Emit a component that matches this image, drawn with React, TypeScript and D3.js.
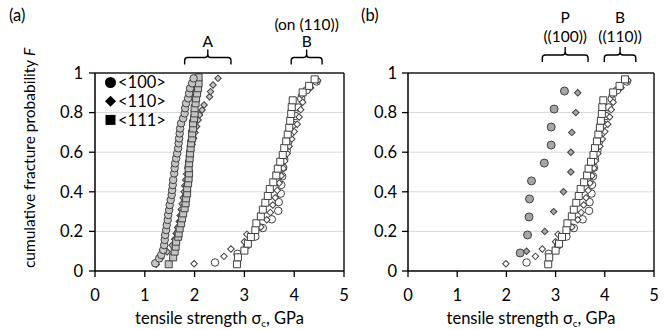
import React from "react";
import * as d3 from "d3";

type Pt = [number, number]; // [tensile strength GPa, F]

// group A (panel a), gray markers
const a100: Pt[] = [
  [1.21, 0.039], [1.29, 0.064], [1.33, 0.081], [1.37, 0.106], [1.39, 0.131],
  [1.4, 0.157], [1.41, 0.182], [1.43, 0.207], [1.44, 0.232], [1.46, 0.258],
  [1.47, 0.283], [1.49, 0.308], [1.5, 0.333], [1.52, 0.359], [1.54, 0.384],
  [1.55, 0.409], [1.56, 0.434], [1.57, 0.46], [1.59, 0.493], [1.6, 0.519],
  [1.61, 0.544], [1.63, 0.569], [1.65, 0.594], [1.67, 0.62], [1.68, 0.645],
  [1.69, 0.67], [1.7, 0.695], [1.71, 0.72], [1.73, 0.746], [1.77, 0.771],
  [1.8, 0.796], [1.81, 0.822], [1.83, 0.847], [1.87, 0.872], [1.89, 0.897],
  [1.91, 0.923], [1.95, 0.948], [1.98, 0.973],
];
const a110: Pt[] = [
  [1.23, 0.034], [1.32, 0.065], [1.45, 0.097], [1.55, 0.13], [1.6, 0.16],
  [1.63, 0.19], [1.66, 0.22], [1.69, 0.25], [1.71, 0.28], [1.73, 0.31],
  [1.75, 0.34], [1.77, 0.37], [1.79, 0.4], [1.8, 0.43], [1.82, 0.46],
  [1.84, 0.49], [1.86, 0.52], [1.88, 0.55], [1.9, 0.58], [1.92, 0.61],
  [1.95, 0.64], [1.98, 0.67], [2.01, 0.7], [2.04, 0.73], [2.07, 0.763],
  [2.1, 0.788], [2.15, 0.813], [2.19, 0.838], [2.3, 0.88], [2.32, 0.906],
  [2.37, 0.939], [2.47, 0.973],
];
const a111: Pt[] = [
  [1.48, 0.034], [1.57, 0.069], [1.6, 0.098], [1.62, 0.123], [1.63, 0.148],
  [1.67, 0.173], [1.68, 0.19], [1.7, 0.215], [1.73, 0.241], [1.75, 0.266],
  [1.77, 0.291], [1.8, 0.317], [1.82, 0.342], [1.83, 0.367], [1.85, 0.392],
  [1.85, 0.418], [1.87, 0.443], [1.88, 0.468], [1.89, 0.493], [1.88, 0.519],
  [1.89, 0.544], [1.9, 0.569], [1.91, 0.594], [1.92, 0.62], [1.93, 0.645],
  [1.95, 0.67], [1.95, 0.695], [1.97, 0.72], [1.97, 0.746], [1.99, 0.771],
  [2.0, 0.796], [2.0, 0.822], [2.02, 0.847], [2.03, 0.872], [2.05, 0.897],
  [2.07, 0.923], [2.08, 0.948], [2.08, 0.978],
];

// group B (both panels), open markers
const b100: Pt[] = [
  [2.41, 0.043], [2.86, 0.087], [3.05, 0.13], [3.22, 0.174], [3.37, 0.217],
  [3.55, 0.261], [3.68, 0.304], [3.69, 0.348], [3.73, 0.391], [3.74, 0.435],
  [3.76, 0.478], [3.78, 0.522], [3.8, 0.565], [3.85, 0.609], [3.88, 0.652],
  [3.93, 0.696], [3.97, 0.739], [4.02, 0.783], [4.08, 0.826], [4.14, 0.87],
  [4.25, 0.913], [4.45, 0.957],
];
const b110: Pt[] = [
  [1.99, 0.037], [2.59, 0.074], [2.73, 0.111], [3.0, 0.148], [3.05, 0.185],
  [3.33, 0.222], [3.45, 0.259], [3.52, 0.296], [3.57, 0.333], [3.62, 0.37],
  [3.66, 0.407], [3.7, 0.444], [3.74, 0.481], [3.78, 0.519], [3.81, 0.556],
  [3.86, 0.593], [3.9, 0.63], [3.95, 0.667], [4.0, 0.704], [4.06, 0.741],
  [4.1, 0.778], [4.13, 0.815], [4.17, 0.852], [4.15, 0.889], [4.33, 0.926],
  [4.47, 0.963],
];
const b111: Pt[] = [
  [2.85, 0.034], [2.87, 0.069], [3.0, 0.103], [3.07, 0.138], [3.13, 0.172],
  [3.22, 0.207], [3.24, 0.241], [3.33, 0.276], [3.37, 0.31], [3.42, 0.345],
  [3.47, 0.379], [3.51, 0.414], [3.58, 0.448], [3.64, 0.483], [3.67, 0.517],
  [3.72, 0.552], [3.77, 0.586], [3.8, 0.621], [3.84, 0.655], [3.87, 0.69],
  [3.9, 0.724], [3.92, 0.759], [3.94, 0.793], [3.95, 0.828], [3.97, 0.862],
  [4.17, 0.902], [4.3, 0.935], [4.41, 0.968],
];

// group P (panel b), gray markers
const p100: Pt[] = [
  [2.28, 0.091], [2.43, 0.182], [2.46, 0.273], [2.47, 0.364], [2.51, 0.455],
  [2.77, 0.545], [2.91, 0.636], [2.91, 0.727], [2.97, 0.818], [3.18, 0.909],
];
const p110: Pt[] = [
  [2.41, 0.1], [2.78, 0.2], [2.96, 0.3], [3.16, 0.4], [3.31, 0.5],
  [3.31, 0.6], [3.33, 0.7], [3.41, 0.8], [3.45, 0.9],
];

const xTicks = [0, 1, 2, 3, 4, 5];
const yTicks = [0, 0.2, 0.4, 0.6, 0.8, 1];
const legendItems = ["<100>", "<110>", "<111>"];

// bracket annotations: [from, to] in GPa, label lines
const bracketsA = [
  { range: [1.8, 2.73], lines: ["A"], top: 57.5, textY: [42] },
  { range: [3.94, 4.56], lines: ["(on (110))", "B"], top: 57.5, textY: [24.5, 42] },
];
const bracketsB = [
  { range: [2.73, 3.66], lines: ["P", "((100))"], top: 55, textY: [18, 36.5] },
  { range: [3.99, 4.63], lines: ["B", "((110))"], top: 55, textY: [18, 36.5] },
];

const FONT = "Lato, 'Open Sans', sans-serif";
const FS = 16.5;
const GRAY = "#c4c4c4";
const GRAY_P = "#a6a6a6";
const EDGE = "#404040";

const yScale = d3.scaleLinear().domain([0, 1]).range([271, 73]);

const circlePath = (r: number) => d3.symbol(d3.symbolCircle, Math.PI * r * r)();
const squarePath = (s: number) => d3.symbol(d3.symbolSquare, s * s)();

function Markers({ data, x, shape, fill, size }: any) {
  const d =
    shape === "circle"
      ? circlePath(size / 2)
      : squarePath(shape === "diamond" ? size / Math.SQRT2 : size);
  return (
    <g>
      {data.map((p: Pt, i: number) => (
        <path
          key={i}
          d={d as string}
          transform={`translate(${x(p[0])},${yScale(p[1])})${shape === "diamond" ? " rotate(45)" : ""}`}
          fill={fill}
          stroke={EDGE}
          strokeWidth={1}
        />
      ))}
    </g>
  );
}

function Bracket({ x, range, lines, top, textY }: any) {
  const x0 = x(range[0]);
  const x1 = x(range[1]);
  const xc = (x0 + x1) / 2;
  const yt = top;
  const yb = yt + 7;
  const r = 3;
  const d = `M${x0},${yb} L${x0},${yt + r} Q${x0},${yt} ${x0 + r},${yt} L${xc - r},${yt} Q${xc},${yt} ${xc},${yt - r} L${xc},${yt - 8}
    M${xc},${yt - r} Q${xc},${yt} ${xc + r},${yt} L${x1 - r},${yt} Q${x1},${yt} ${x1},${yt + r} L${x1},${yb}`;
  return (
    <g>
      <path d={d} fill="none" stroke="#000" strokeWidth={1.4} />
      {lines.map((t: string, i: number) => (
        <text key={i} x={xc} y={textY[i]} dy="0.35em" textAnchor="middle" fontSize={15.5}>
          {t}
        </text>
      ))}
    </g>
  );
}

function Panel({ x, labelRight, brackets, children }: any) {
  const [xl, xr] = x.range();
  return (
    <g>
      {yTicks.slice(1, -1).map((t) => (
        <line key={t} x1={xl} x2={xr} y1={yScale(t)} y2={yScale(t)} stroke="#d9d9d9" strokeWidth={1} />
      ))}
      {children}
      <line x1={xl} x2={xr} y1={73} y2={73} stroke="#1a1a1a" strokeWidth={1.5} />
      <line x1={xr} x2={xr} y1={73} y2={271} stroke="#1a1a1a" strokeWidth={1.5} />
      <line x1={xl} x2={xr} y1={271} y2={271} stroke="#000" strokeWidth={1.5} />
      <line x1={xl} x2={xl} y1={73} y2={271} stroke="#000" strokeWidth={1.5} />
      {yTicks.map((t) => (
        <g key={t}>
          <line x1={xl - 6} x2={xl} y1={yScale(t)} y2={yScale(t)} stroke="#000" strokeWidth={1.3} />
          <text x={labelRight} y={yScale(t)} dy="0.35em" textAnchor="end" fontSize={FS}>
            {t}
          </text>
        </g>
      ))}
      {xTicks.map((t) => (
        <g key={t}>
          <line x1={x(t)} x2={x(t)} y1={271} y2={277} stroke="#000" strokeWidth={1.3} />
          <text x={x(t)} y={295} dy="0.35em" textAnchor="middle" fontSize={FS}>
            {t}
          </text>
        </g>
      ))}
      <text x={(xl + xr) / 2} y={318} dy="0.35em" textAnchor="middle" fontSize={FS}>
        tensile strength σ<tspan fontSize={10} dy="3">c</tspan>
        <tspan dy="-3">, GPa</tspan>
      </text>
      {brackets.map((b: any, i: number) => (
        <Bracket key={i} x={x} {...b} />
      ))}
    </g>
  );
}

export default function App() {
  const xA = d3.scaleLinear().domain([0, 5]).range([95, 344]);
  const xB = d3.scaleLinear().domain([0, 5]).range([408, 654]);

  return (
    <svg
      width={668}
      height={330}
      style={{ position: "absolute", left: 0, top: 0, background: "#fff" }}
      fontFamily={FONT}
      fill="#000"
    >
      <text x={9} y={15} dy="0.35em" fontSize={FS}>(a)</text>
      <text x={361} y={15} dy="0.35em" fontSize={FS}>(b)</text>
      <text
        transform="translate(30,158) rotate(-90)"
        textAnchor="middle"
        dy="0.35em"
        fontSize={15.5}
      >
        cumulative fracture probability <tspan fontStyle="italic">F</tspan>
      </text>

      <Panel x={xA} labelRight={83} brackets={bracketsA}>
        <Markers data={b100} x={xA} shape="circle" fill="#fff" size={7.5} />
        <Markers data={b110} x={xA} shape="diamond" fill="#fff" size={6.5} />
        <Markers data={b111} x={xA} shape="square" fill="#fff" size={7} />
        <Markers data={a110} x={xA} shape="diamond" fill={GRAY} size={6.5} />
        <Markers data={a111} x={xA} shape="square" fill={GRAY} size={7} />
        <Markers data={a100} x={xA} shape="circle" fill={GRAY} size={7.5} />
        {legendItems.map((t, i) => {
          const cy = 82.5 + i * 18.7;
          const shape = ["circle", "diamond", "square"][i];
          const d =
            shape === "circle" ? circlePath(5.5) : squarePath(shape === "diamond" ? 11 / Math.SQRT2 : 10);
          return (
            <g key={t}>
              <path
                d={d as string}
                transform={`translate(110.5,${cy})${shape === "diamond" ? " rotate(45)" : ""}`}
                fill="#000"
              />
              <text x={118} y={cy} dy="0.35em" fontSize={FS}>{t}</text>
            </g>
          );
        })}
      </Panel>

      <Panel x={xB} labelRight={397} brackets={bracketsB}>
        <Markers data={b100} x={xB} shape="circle" fill="#fff" size={7.5} />
        <Markers data={b110} x={xB} shape="diamond" fill="#fff" size={6.5} />
        <Markers data={b111} x={xB} shape="square" fill="#fff" size={7} />
        <Markers data={p110} x={xB} shape="diamond" fill={GRAY_P} size={6.5} />
        <Markers data={p100} x={xB} shape="circle" fill={GRAY_P} size={8} />
      </Panel>
    </svg>
  );
}
